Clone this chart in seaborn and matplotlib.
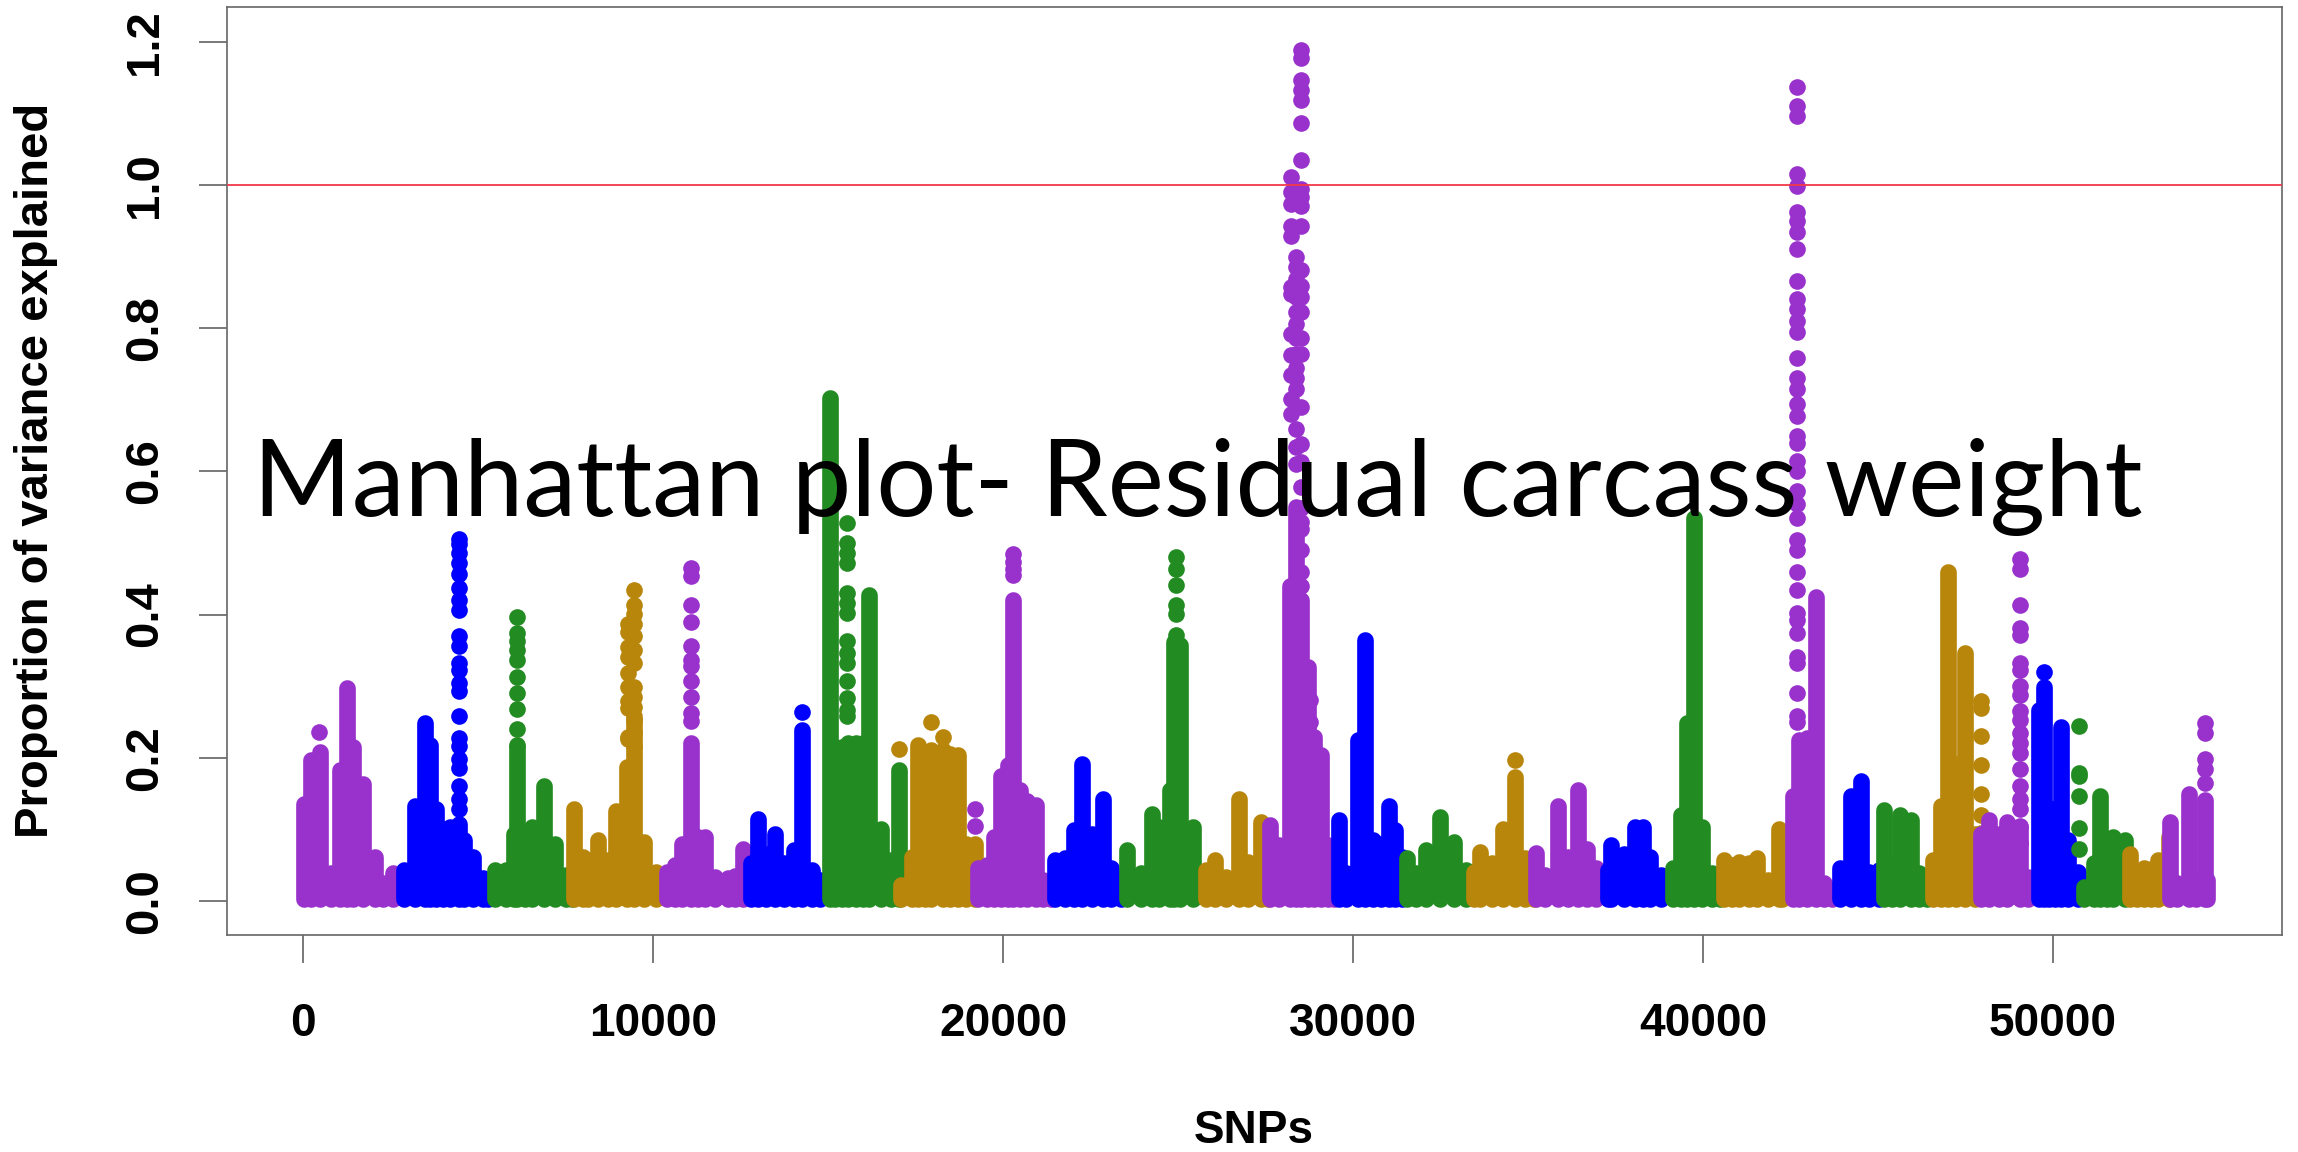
import matplotlib
matplotlib.use('Agg')
import matplotlib.pyplot as plt
import pandas as pd
import seaborn as sns

sns.set_theme(style="white")
plt.rcParams['font.family'] = ['Liberation Sans', 'DejaVu Sans']

# four colours repeat along the 29 chromosomes
colors = ['#9932CC', '#0000FF', '#228B22', '#B8860B']

# solid part of each chromosome: SNP position and height of the top of the mass
col_x = [
    [40, 220, 500, 790, 1060, 1250, 1430, 1720, 2055, 2300, 2570],
    [2890, 3200, 3480, 3615, 3790, 4000, 4200, 4445, 4610, 4855, 5150, 5290],
    [5480, 5800, 6020, 6120, 6330, 6530, 6880, 7190, 7520, 7700],
    [7740, 7990, 8135, 8440, 8720, 8940, 9270, 9450, 9740, 10100],
    [10400, 10620, 10830, 11080, 11300, 11490, 11780, 12145, 12350, 12570],
    [12800, 12990, 13240, 13500, 13750, 14040, 14260, 14550, 14770],
    [15060, 15200, 15400, 15570, 15790, 16000, 16170, 16520, 16810, 17015],
    [17100, 17390, 17580, 17770, 17950, 18280, 18500, 18720, 18930, 19210],
    [19300, 19550, 19750, 19950, 20150, 20290, 20480, 20700, 20930, 21150, 21380],
    [21500, 21780, 22020, 22270, 22530, 22850, 23100, 23360],
    [23550, 23940, 24250, 24450, 24760, 24900, 25050, 25430],
    [25790, 26050, 26370, 26750, 27000, 27380, 27570],
    [27640, 27890, 28200, 28370, 28520, 28720, 28900, 29100, 29300, 29450],
    [29610, 29800, 30130, 30340, 30570, 30800, 31020, 31200, 31400],
    [31530, 31790, 32100, 32490, 32900, 33220],
    [33450, 33640, 33960, 34280, 34620, 34920, 35170],
    [35220, 35490, 35870, 36150, 36430, 36680, 36950],
    [37280, 37380, 37730, 38050, 38300, 38490, 38810],
    [39140, 39370, 39550, 39750, 39965, 40260, 40500],
    [40610, 40820, 41030, 41320, 41535, 41850, 42170, 42270],
    [42560, 42740, 42980, 43215, 43450, 43680],
    [43920, 44220, 44510, 44750, 45040],
    [45170, 45400, 45630, 45930, 46170, 46400],
    [46580, 46810, 46990, 47230, 47490, 47760],
    [47940, 48170, 48470, 48700, 49060, 49290],
    [49590, 49745, 49880, 50060, 50240, 50420, 50710],
    [50890, 51180, 51340, 51530, 51720, 52070],
    [52190, 52400, 52600, 52800, 53010, 53320],
    [53340, 53550, 53900, 54100, 54330, 54400],
]
col_top = [
    [.136, .197, .208, .039, .183, .297, .215, .164, .062, .025, .039],
    [.043, .132, .248, .218, .129, .100, .104, .108, .085, .062, .032, .025],
    [.043, .043, .094, .215, .090, .104, .160, .080, .036, .025],
    [.129, .062, .057, .085, .057, .125, .187, .258, .083, .041],
    [.041, .050, .080, .220, .090, .090, .034, .032, .035, .073],
    [.053, .115, .066, .094, .053, .071, .239, .043, .029],
    [.703, .215, .215, .220, .220, .220, .427, .101, .057, .183],
    [.022, .062, .218, .205, .211, .211, .205, .204, .080, .080],
    [.046, .050, .090, .175, .190, .420, .155, .140, .134, .030, .030],
    [.057, .060, .099, .192, .094, .143, .046, .029],
    [.071, .039, .122, .104, .155, .362, .357, .104],
    [.043, .057, .034, .143, .055, .111, .085],
    [.106, .078, .440, .550, .420, .327, .229, .204, .078, .039],
    [.113, .039, .225, .364, .085, .080, .132, .099, .062],
    [.060, .039, .071, .118, .083, .043],
    [.040, .069, .053, .101, .173, .060, .039],
    [.067, .036, .132, .062, .155, .073, .046],
    [.043, .078, .066, .104, .104, .062, .036],
    [.046, .120, .248, .535, .104, .039, .030],
    [.057, .050, .055, .053, .060, .030, .101, .085],
    [.146, .225, .227, .425, .025, .015],
    [.046, .146, .167, .041, .043],
    [.127, .050, .120, .113, .039, .025],
    [.057, .132, .460, .192, .346, .094],
    [.094, .113, .094, .111, .104, .034],
    [.267, .299, .130, .120, .243, .085, .041],
    [.020, .053, .146, .070, .090, .085],
    [.066, .040, .046, .045, .057, .090],
    [.111, .025, .150, .030, .141, .030],
]

# separate points of the peaks, stem by stem
stem_chrom = [0, 1, 2, 3, 3, 3, 3, 4, 5, 6, 7, 7, 7, 8, 8,
              10, 12, 12, 12, 12, 12, 12, 12, 15, 20, 20, 23, 24, 25, 26, 28]
stem_x = [470, 4447, 6120, 9450, 9280, 9280, 9450, 11080, 14260, 15540, 17015, 17950, 18280, 19210, 20290,
          24950, 28514, 28217, 28380, 28514, 28217, 28520, 28760, 34620, 42686, 42686, 47940, 49060, 49745, 50735, 54330]
stem_y = [
    [.236],
    [.506, .498, .486, .472, .456, .437, .421, .407, .370, .356, .333, .323, .305, .293,
     .258, .228, .216, .198, .186, .160, .142, .128],
    [.397, .374, .363, .351, .337, .313, .290, .268, .240, .218],
    [.435, .413, .401, .387, .370, .351, .332, .299, .285, .271],
    [.387, .376, .355, .341, .318, .299, .280, .269],
    [.229, .226],
    [.253, .235, .216],
    [.465, .454, .413, .390, .356, .337, .328, .307, .285, .262, .251],
    [.264],
    [.528, .500, .486, .472, .430, .416, .402, .363, .347, .333, .307, .284, .267, .258],
    [.212],
    [.250],
    [.229],
    [.128, .105],
    [.484, .473, .464, .455],
    [.480, .464, .441, .413, .401, .371],
    [1.188, 1.178, 1.146, 1.133, 1.119, 1.087, 1.035, .994, .983, .970, .943],
    [1.011, .990, .973, .943, .929],
    [.899, .885, .869, .859, .843, .822, .806, .787, .764, .745, .731, .715, .659, .634, .610],
    [.881, .859, .843, .822, .787, .764, .690, .638, .613, .578, .549],
    [.857, .848, .792, .762, .734, .701, .680],
    [.530, .520, .490, .460, .440],
    [.281, .250],
    [.197],
    [1.137, 1.111, 1.097, 1.015, .999, .962, .950, .934, .911, .866, .841, .827, .810, .794,
     .759, .731, .715, .694, .678, .650, .640, .615, .600, .573, .554],
    [.535, .504, .490, .460, .434, .402, .393, .374, .341, .332, .290, .258, .250],
    [.280, .270, .230, .190, .150, .120, .095],
    [.478, .464, .414, .381, .371, .333, .323, .300, .288, .265, .253, .235, .221, .207,
     .184, .160, .142, .128, .105, .081],
    [.320],
    [.244, .179, .174, .147, .102, .072],
    [.249, .235, .198, .184, .165],
]

x_ticks = [0, 10000, 20000, 30000, 40000, 50000]
y_ticks = [0.0, 0.2, 0.4, 0.6, 0.8, 1.0, 1.2]
threshold = 1.0
y_floor = 0.003

fig = plt.figure(figsize=(22.98, 11.52), dpi=100)
ax = fig.add_axes([227 / 2298, 1 - 935 / 1152, 2055 / 2298, 928 / 1152])

dot_pt = 12  # marker diameter

# chromosomes one after the other, later ones lie on top
for i in range(len(col_x)):
    c = colors[i % 4]
    ax.vlines(col_x[i], y_floor, col_top[i], colors=c, linewidth=dot_pt,
              capstyle='round', zorder=2 + i * 0.01)
    for k, chrom in enumerate(stem_chrom):
        if chrom != i:
            continue
        df = pd.DataFrame({'x': [stem_x[k]] * len(stem_y[k]), 'y': stem_y[k]})
        sns.scatterplot(data=df, x='x', y='y', color=c, s=dot_pt ** 2, linewidth=0,
                        ax=ax, zorder=2 + i * 0.01)

ax.axhline(threshold, color='#F2384A', linewidth=1.3, zorder=5)

ax.set_xlim(-2171, 56543)
ax.set_ylim(-0.0475, 1.2486)
ax.set_xticks(x_ticks)
ax.set_yticks(y_ticks)
ax.set_xticklabels([str(t) for t in x_ticks], fontsize=33, fontweight='bold', color='black')
ax.set_yticklabels([f'{t:.1f}' for t in y_ticks], fontsize=34, fontweight='bold', color='black',
                   rotation=90, va='center')
ax.tick_params(axis='both', length=20, width=1.1, color='#555555', left=True, bottom=True)
ax.tick_params(axis='x', pad=28)
ax.tick_params(axis='y', pad=23)
for s in ax.spines.values():
    s.set_color('#666666')
    s.set_linewidth(1.2)
ax.set_xlabel('')
ax.set_ylabel('')

fig.text(36 / 2298, 1 - 470 / 1152, 'Proportion of variance explained', rotation=90,
         ha='center', va='center', fontsize=34, fontweight='bold', color='black')
fig.text(1254 / 2298, 1 - 1131 / 1152, 'SNPs', ha='center', va='center',
         fontsize=33, fontweight='bold', color='black')

# title pasted across the plot
fig.text(253 / 2298, 1 - 516 / 1152, 'Manhattan plot- Residual carcass weight',
         family=['Lato', 'DejaVu Sans'], fontsize=76.5, color='black',
         ha='left', va='baseline', zorder=10)

plt.savefig('out.png', dpi=100)
